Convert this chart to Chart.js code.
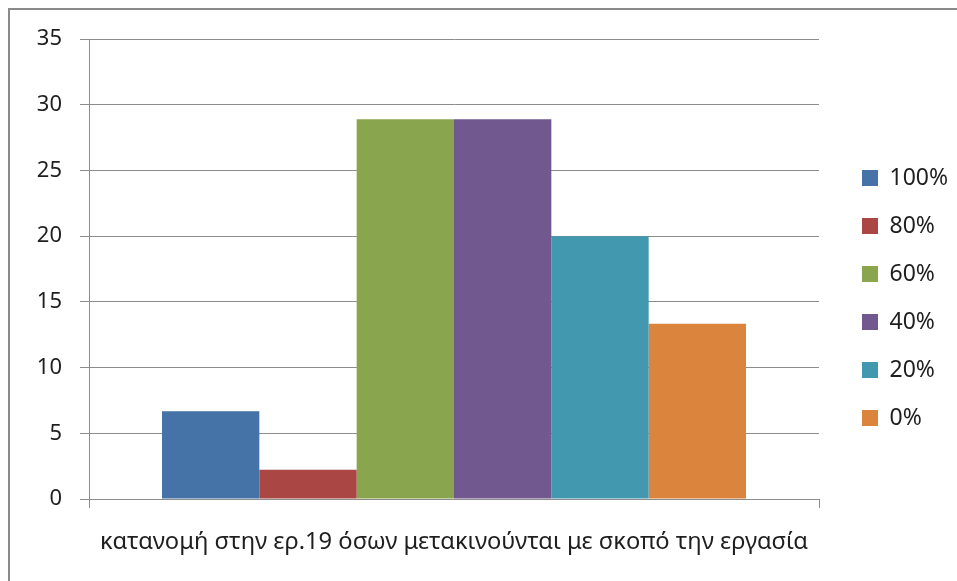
<!DOCTYPE html>
<html>
<head>
<meta charset="utf-8">
<script src="https://cdn.jsdelivr.net/npm/chart.js@4/dist/chart.umd.min.js"></script>
<style>
  html, body { margin: 0; padding: 0; background: #fff; }
  #wrap { position: relative; width: 957px; height: 581px; }
</style>
</head>
<body>
<div id="wrap"><canvas id="c" width="957" height="581"></canvas></div>
<script>
// Category and series data
const categories = ['κατανομή στην ερ.19 όσων μετακινούνται με σκοπό την εργασία'];
const seriesNames = ['100%', '80%', '60%', '40%', '20%', '0%'];
const seriesValues = [6.67, 2.22, 28.89, 28.89, 20, 13.33];
const seriesColors = ['#4572A7', '#AA4643', '#89A54E', '#71588F', '#4198AF', '#DB843D'];
const yTicks = [0, 5, 10, 15, 20, 25, 30, 35];

const FONT = "'Noto Sans', 'DejaVu Sans', sans-serif";
const GRID = '#8c8c8c';
const TEXT = '#1f1f1f';
const LEGEND_WIDTH = 120;

// White background plus the frame lines along the top and left edges
const framePlugin = {
  id: 'frame',
  beforeDraw(chart) {
    const ctx = chart.ctx;
    ctx.save();
    ctx.fillStyle = '#fff';
    ctx.fillRect(0, 0, chart.width, chart.height);
    ctx.fillStyle = '#8a8a8a';
    ctx.fillRect(8, 8, chart.width - 8, 2);
    ctx.fillRect(8, 8, 2, chart.height - 8);
    ctx.restore();
  }
};

// Give the legend box a fixed width so the plot area keeps its size
const legendWidthPlugin = {
  id: 'legendWidth',
  beforeLayout(chart) {
    const lg = chart.legend;
    if (lg && !lg._fixedWidth) {
      const fit = lg.fit.bind(lg);
      lg.fit = function () { fit(); this.width = LEGEND_WIDTH; };
      lg._fixedWidth = true;
    }
  }
};

const datasets = seriesNames.map((name, i) => ({
  label: name,
  data: [seriesValues[i]],
  backgroundColor: seriesColors[i],
  borderWidth: 0,
  barPercentage: 1.0,
  categoryPercentage: 0.8
}));

new Chart(document.getElementById('c'), {
  type: 'bar',
  data: { labels: categories, datasets },
  options: {
    responsive: false,
    animation: false,
    devicePixelRatio: 1,
    layout: { padding: { left: 0, right: 0, top: 15, bottom: 0 } },
    plugins: {
      tooltip: { enabled: false },
      title: {
        display: true,
        text: ' ',
        fullSize: false,
        font: { size: 10, family: FONT },
        padding: 6
      },
      legend: {
        position: 'right',
        align: 'center',
        labels: {
          boxWidth: 16,
          boxHeight: 16,
          padding: 25,
          color: TEXT,
          font: { size: 23, family: FONT }
        }
      }
    },
    scales: {
      x: {
        offset: true,
        grid: {
          display: true,
          offset: true,
          drawOnChartArea: false,
          drawTicks: true,
          tickLength: 9,
          color: GRID
        },
        border: { display: true, color: GRID },
        ticks: {
          color: TEXT,
          font: { size: 23.7, family: FONT },
          padding: 20,
          maxRotation: 0,
          autoSkip: false
        },
        afterFit(scale) { scale.height = 82; }
      },
      y: {
        min: yTicks[0],
        max: yTicks[yTicks.length - 1],
        afterBuildTicks(scale) { scale.ticks = yTicks.map(v => ({ value: v })); },
        grid: {
          color: GRID,
          drawTicks: true,
          tickLength: 9
        },
        border: { display: true, color: GRID },
        ticks: {
          color: TEXT,
          font: { size: 22, family: FONT },
          padding: 18
        },
        afterFit(scale) { scale.width = 89; }
      },
      gap: {
        position: 'right',
        display: true,
        grid: { display: false },
        border: { display: false },
        ticks: { display: false },
        afterFit(scale) { scale.width = 18; }
      }
    }
  },
  plugins: [framePlugin, legendWidthPlugin]
});
</script>
</body>
</html>
